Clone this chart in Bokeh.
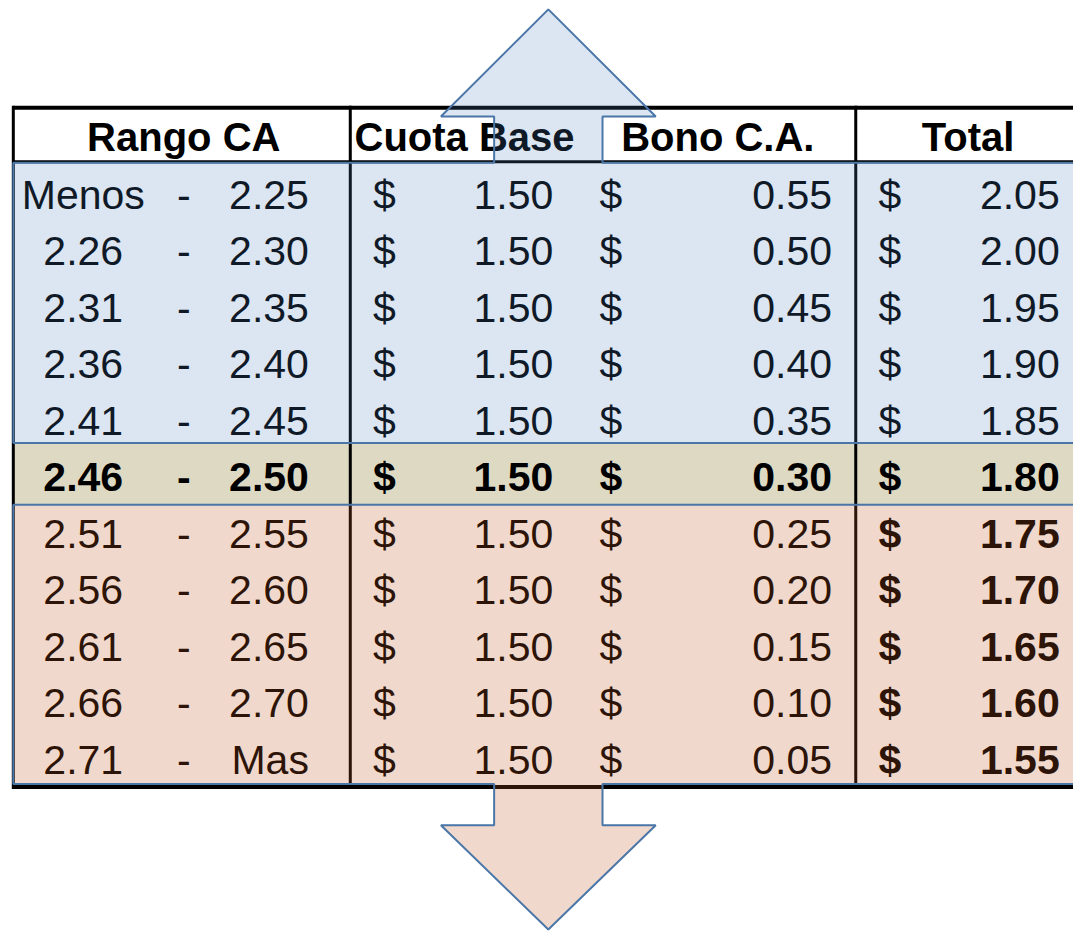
from bokeh.plotting import figure
from bokeh.models import ColumnDataSource, Range1d
from bokeh.core.properties import value
from bokeh.embed import file_html
from bokeh.resources import INLINE

# ---------------- data ----------------
headers = ["Rango CA", "Cuota Base", "Bono C.A.", "Total"]
rango_lo = ["Menos", "2.26", "2.31", "2.36", "2.41", "2.46", "2.51", "2.56", "2.61", "2.66", "2.71"]
rango_hi = ["2.25", "2.30", "2.35", "2.40", "2.45", "2.50", "2.55", "2.60", "2.65", "2.70", "Mas"]
cuota = [1.50, 1.50, 1.50, 1.50, 1.50, 1.50, 1.50, 1.50, 1.50, 1.50, 1.50]
bono = [0.55, 0.50, 0.45, 0.40, 0.35, 0.30, 0.25, 0.20, 0.15, 0.10, 0.05]
total = [2.05, 2.00, 1.95, 1.90, 1.85, 1.80, 1.75, 1.70, 1.65, 1.60, 1.55]
highlight_row = 5  # the 2.46 - 2.50 band

# ---------------- layout ----------------
FONT = value("Liberation Sans")
SIZE = "41px"
HSIZE = "40px"
TOP = 109
HEAD_BOT = 164
ROW0_MID = 197.5
ROW_H = 57.5
BOT = 800
LEFT = 13
RIGHT = 1100
VLINES = [13, 355, 868]

X_LO, X_DASH, X_HI = 84, 186, 313
X_D1, X_V1 = 378, 561
X_D2, X_V2 = 608, 844
X_D3, X_V3 = 891, 1075
HEAD_X = [186, 471, 728, 982]
HEAD_MID = 139

BLUE_TOP, BLUE_BOT = 165, 450
PEACH_TOP, PEACH_BOT = 513, 797
SH_L, SH_R = 501, 611
HEAD_L, HEAD_R, APEX_X = 447, 665, 556
UP_BASE, UP_APEX = 118, 9
DN_BASE, DN_APEX = 839, 945

p = figure(width=1073, height=931, x_range=Range1d(0, 1089), y_range=Range1d(947, 0),
           output_backend="svg", toolbar_location=None, min_border=0,
           x_axis_location=None, y_axis_location=None, background_fill_color="white",
           border_fill_color="white")
p.grid.visible = False
p.outline_line_color = None

n = len(rango_lo)
mid = [ROW0_MID + ROW_H * i for i in range(n)]

# tan highlighted row
p.quad(left=[LEFT], right=[RIGHT], top=[BLUE_BOT], bottom=[PEACH_TOP],
       fill_color="#DDD9C3", line_color=None)

# table lines
p.segment(x0=[LEFT], y0=[TOP], x1=[RIGHT], y1=[TOP], line_color="black", line_width=4)
p.segment(x0=[LEFT], y0=[HEAD_BOT], x1=[RIGHT], y1=[HEAD_BOT], line_color="black", line_width=3)
p.segment(x0=[LEFT], y0=[BOT], x1=[RIGHT], y1=[BOT], line_color="black", line_width=4)
p.segment(x0=VLINES, y0=[TOP - 2] * 3, x1=VLINES, y1=[BOT + 2] * 3, line_color="black", line_width=3)

# headers
p.text(x=HEAD_X, y=[HEAD_MID] * 4, text=headers, text_font=FONT, text_font_size=HSIZE,
       text_font_style="bold", text_align="center", text_baseline="middle", text_color="black")

# body
styles = ["bold" if i == highlight_row else "normal" for i in range(n)]
tstyles = ["bold" if i >= highlight_row else "normal" for i in range(n)]
src = ColumnDataSource(dict(
    mid=mid, lo=rango_lo, hi=rango_hi, dash=["-"] * n, dol=["$"] * n,
    c=[f"{v:.2f}" for v in cuota], b=[f"{v:.2f}" for v in bono], t=[f"{v:.2f}" for v in total],
    st=styles, tst=tstyles,
))

def col(x, field, align, style="st"):
    p.text(x=x, y="mid", text=field, source=src, text_font=FONT, text_font_size=SIZE,
           text_font_style=style, text_align=align, text_baseline="middle", text_color="black")

col(X_LO, "lo", "center")
col(X_DASH, "dash", "center")
col(X_HI, "hi", "right")
col(X_D1, "dol", "left")
col(X_V1, "c", "right")
col(X_D2, "dol", "left")
col(X_V2, "b", "right")
col(X_D3, "dol", "left", "tst")
col(X_V3, "t", "right", "tst")

# translucent arrow shapes
blue_x = [LEFT, LEFT, SH_L, SH_L, HEAD_L, APEX_X, HEAD_R, SH_R, SH_R, RIGHT, RIGHT]
blue_y = [BLUE_BOT, BLUE_TOP, BLUE_TOP, UP_BASE, UP_BASE, UP_APEX, UP_BASE, UP_BASE, BLUE_TOP, BLUE_TOP, BLUE_BOT]
p.patch(blue_x, blue_y, fill_color="#4F81BD", fill_alpha=0.2, line_color="#4A76A8", line_width=2)

peach_x = [LEFT, RIGHT, RIGHT, SH_R, SH_R, HEAD_R, APEX_X, HEAD_L, SH_L, SH_L, LEFT]
peach_y = [PEACH_TOP, PEACH_TOP, PEACH_BOT, PEACH_BOT, DN_BASE, DN_BASE, DN_APEX, DN_BASE, DN_BASE, PEACH_BOT, PEACH_BOT]
p.patch(peach_x, peach_y, fill_color="#BE5A23", fill_alpha=0.23, line_color="#4A76A8", line_width=2)

open("out.html", "w").write(file_html(p, INLINE))
